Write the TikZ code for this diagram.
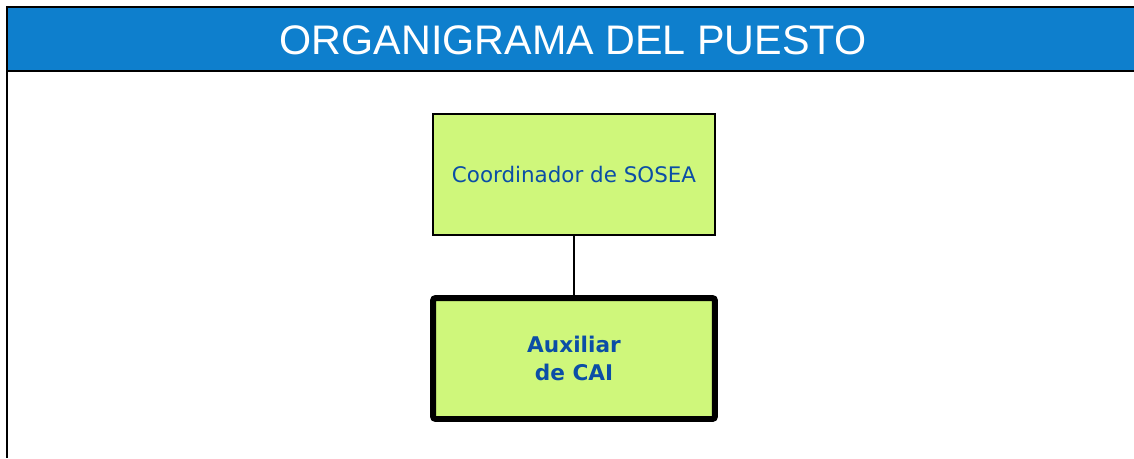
\documentclass[tikz,border=0pt]{standalone}
\usepackage{fontspec}
\setmainfont{DejaVu Sans}
\newfontfamily\headfont{Liberation Sans}
\definecolor{headblue}{HTML}{0E7FCD}
\definecolor{boxgreen}{HTML}{CFF77B}
\definecolor{textblue}{HTML}{0B4EA6}
\tikzset{
  puesto/.style={draw=black, fill=boxgreen, text=textblue, align=center,
    minimum width=5.64cm, minimum height=2.42cm, inner sep=0pt},
  jefe/.style={puesto, line width=1.1pt, font=\fontsize{12.2}{15}\selectfont},
  actual/.style={puesto, line width=3.4pt, rounded corners=1.5pt,
    font=\fontsize{12.3}{15.9}\selectfont\bfseries}
}
\begin{document}
\begin{tikzpicture}[x=0.02cm,y=-0.02cm]
    \useasboundingbox (0,0) rectangle (1134,458);

    % Header band
    \fill[headblue] (7,7) rectangle (1134,71);
    \draw[line width=1.2pt] (1134,7) -- (7,7) -- (7,458);
    \draw[line width=1.2pt] (7,71) -- (1134,71);
    \node[text=white, font=\headfont\fontsize{23.5}{28}\selectfont] (titulo) at (573,40) {ORGANIGRAMA DEL PUESTO};

    % Boxes
    \node[jefe] (coord) at (574,174.5) {Coordinador de SOSEA};
    \node[actual] (aux) at (574,358.5) {Auxiliar\\de CAI};

    % Connector
    \draw[line width=1pt] (coord) -- (aux);

\end{tikzpicture}
\end{document}
